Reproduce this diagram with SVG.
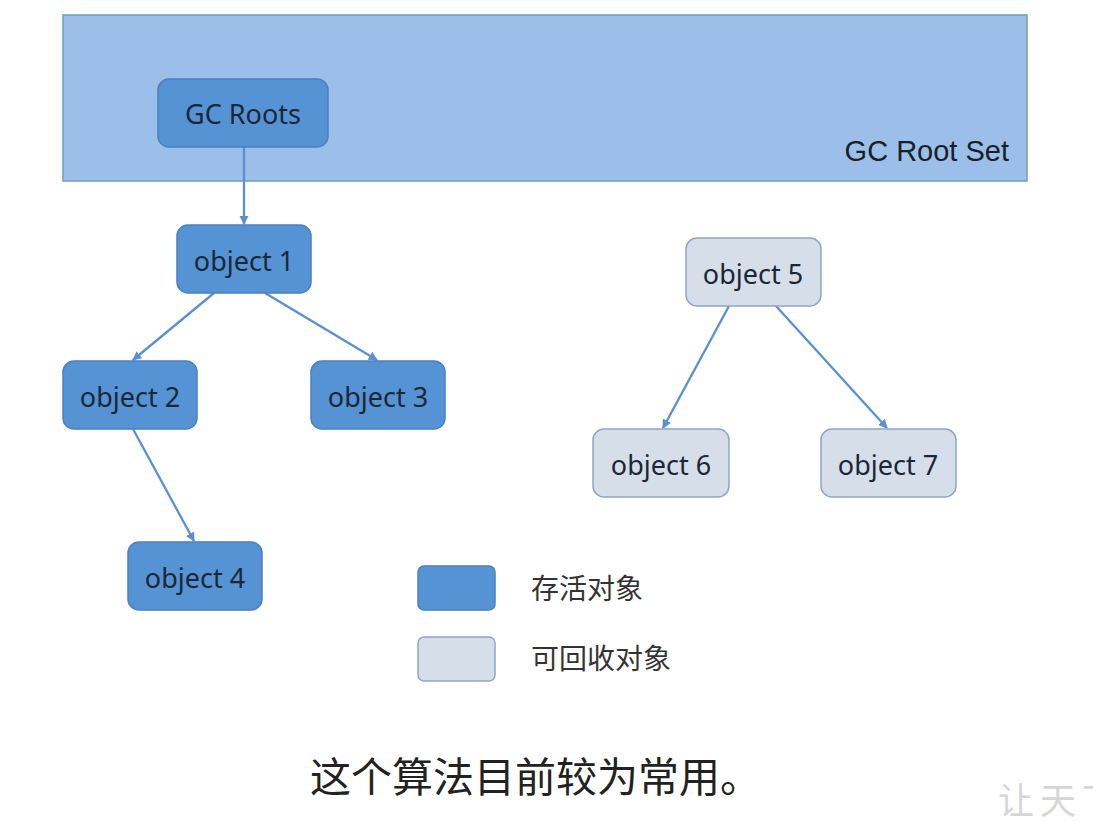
<svg xmlns="http://www.w3.org/2000/svg" width="1093" height="822" viewBox="0 0 1093 822">
<style>
.live{fill:#5593d5;stroke:#4a80c0;stroke-width:1.5}
.dead{fill:#d6dee9;stroke:#8ea6c4;stroke-width:1.5}
.lbl{font-family:"Noto Sans","Liberation Sans",sans-serif;font-size:27px;fill:#1c2735;text-anchor:middle}
.cn{font-family:"Noto Sans CJK SC",sans-serif}
.edge{stroke:#5b8fd2;stroke-width:2.3;fill:none;marker-end:url(#ah)}
</style>
<defs>
<marker id="ah" viewBox="0 0 10 10" refX="9" refY="5" markerWidth="4" markerHeight="4" orient="auto" markerUnits="strokeWidth">
<path d="M0,0 L10,5 L0,10 z" fill="#5b8fd2"/>
</marker>
</defs>
<rect width="1093" height="822" fill="#ffffff"/>
<g id="rootset">
<rect x="63" y="15" width="964" height="166" fill="#9bbfe8" stroke="#7399c6" stroke-width="1.5"/>
<text x="1009" y="161" font-family="'Liberation Sans',Arial,sans-serif" font-size="29" fill="#1a1f27" text-anchor="end">GC Root Set</text>
</g>
<g id="connectors">
<line class="edge" x1="244" y1="147" x2="244" y2="224"/>
<line class="edge" x1="214" y1="293" x2="133" y2="360"/>
<line class="edge" x1="265" y1="293" x2="377" y2="360"/>
<line class="edge" x1="133" y1="429" x2="194" y2="541"/>
<line class="edge" x1="729" y1="306" x2="663" y2="428"/>
<line class="edge" x1="776" y1="306" x2="887" y2="428"/>
</g>
<g id="gcroots">
<rect class="live" x="158" y="79" width="170" height="68" rx="11"/>
<text class="lbl" x="243" y="124">GC Roots</text>
</g>
<g id="object1">
<rect class="live" x="177" y="225" width="134" height="68" rx="11"/>
<text class="lbl" x="244" y="271">object 1</text>
</g>
<g id="object2">
<rect class="live" x="63" y="361" width="134" height="68" rx="11"/>
<text class="lbl" x="130" y="407">object 2</text>
</g>
<g id="object3">
<rect class="live" x="311" y="361" width="134" height="68" rx="11"/>
<text class="lbl" x="378" y="407">object 3</text>
</g>
<g id="object4">
<rect class="live" x="128" y="542" width="134" height="68" rx="11"/>
<text class="lbl" x="195" y="588">object 4</text>
</g>
<g id="object5">
<rect class="dead" x="686" y="238" width="135" height="68" rx="11"/>
<text class="lbl" x="753" y="284">object 5</text>
</g>
<g id="object6">
<rect class="dead" x="593" y="429" width="136" height="68" rx="11"/>
<text class="lbl" x="661" y="475">object 6</text>
</g>
<g id="object7">
<rect class="dead" x="821" y="429" width="135" height="68" rx="11"/>
<text class="lbl" x="888" y="475">object 7</text>
</g>
<g id="legend">
<rect class="live" x="418" y="566" width="77" height="44" rx="6"/>
<text class="cn" x="531" y="599" font-size="28" fill="#333">存活对象</text>
<rect class="dead" x="418" y="637" width="77" height="44" rx="6"/>
<text class="cn" x="531" y="669" font-size="28" fill="#333">可回收对象</text>
</g>
<text class="cn" x="310" y="792" font-size="41" fill="#222">这个算法目前较为常用。</text>
<text class="cn" x="998" y="814" font-size="36" letter-spacing="6" fill="#d6d6d6">让天下</text>
</svg>
